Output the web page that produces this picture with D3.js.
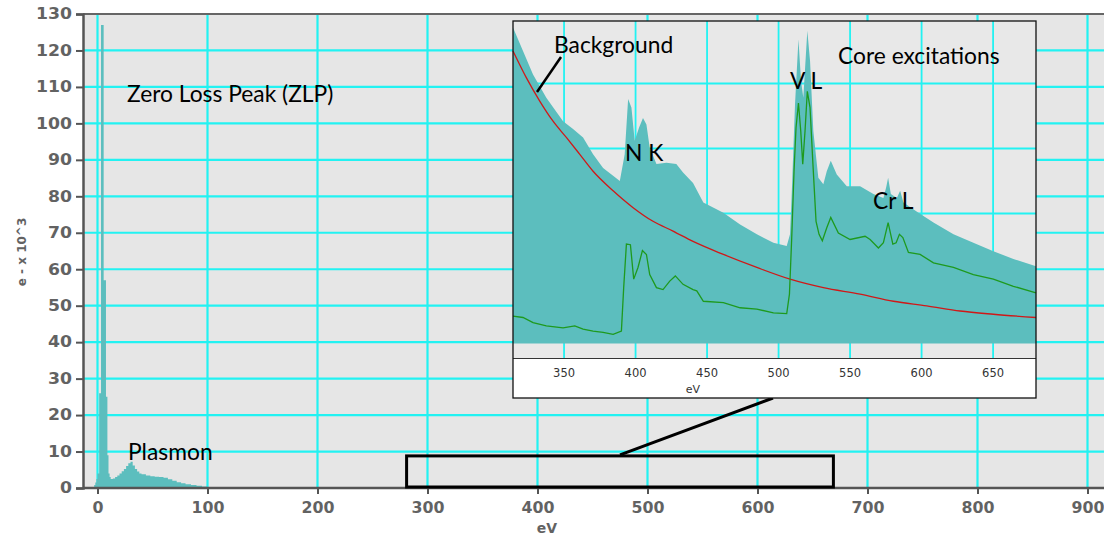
<!DOCTYPE html>
<html>
<head>
<meta charset="utf-8">
<script src="https://cdn.jsdelivr.net/npm/d3@7"></script>
<style>
  html, body { margin: 0; padding: 0; background: #fff; }
  svg { display: block; }
</style>
</head>
<body>
<svg id="chart" width="1104" height="535"></svg>
<script>
// ---- Low-loss spectrum (full range), energy in eV, counts in e- x 10^3 ----
const mainEnergy = [-5, -3, -2, -1, 0, 1.5, 3.2, 5.6, 7.7, 9, 10, 11, 12, 14, 16, 18, 20, 22, 24, 26, 28, 30, 32, 34, 36, 38, 40, 44, 48, 52, 56, 60, 64, 68, 72, 76, 80, 85, 90, 95, 100, 105, 110, 115, 120];
const mainCounts = [0, 0.8, 1.5, 2.5, 4, 26, 127, 57, 25, 9, 4, 3, 2.5, 2.6, 3, 3.4, 4, 4.6, 5.2, 6, 6.8, 7.2, 6.2, 5.2, 4.5, 4, 3.8, 3.4, 3.2, 3.1, 3.0, 2.8, 2.4, 2.0, 1.6, 1.3, 1.0, 0.8, 0.6, 0.4, 0.3, 0.2, 0.1, 0.05, 0];

const mainXTicks = [0, 100, 200, 300, 400, 500, 600, 700, 800, 900];
const mainYTicks = [0, 10, 20, 30, 40, 50, 60, 70, 80, 90, 100, 110, 120, 130];

// zoom window marked on the full spectrum
const zoomRange = { e0: 281, e1: 669, c0: 0, c1: 8.8 };

// ---- Core-loss detail (inset) ----
const insetEnergy = [314.3, 321.3, 328.3, 337.6, 349.3, 356.3, 363.3, 370.3, 377.3, 384.3, 389, 392.4, 394.8, 397.1, 399.4, 402.4, 405.2, 407.6, 409.9, 414.6, 421.6, 428.5, 433.2, 440.2, 447.4, 461.4, 473.1, 484.8, 496.4, 505.7, 508, 509.2, 511.5, 513.9, 515.7, 517.3, 520.1, 522, 524.3, 527.8, 531.3, 533.7, 536.5, 540.7, 547.7, 557, 566.3, 573.3, 575.2, 576.6, 578.5, 582.7, 585, 587.3, 597.8, 608.3, 622.3, 636.2, 650.2, 664.2, 680];
const insetTotal = [4.86, 4.50, 4.14, 3.78, 3.42, 3.30, 3.17, 2.91, 2.70, 2.58, 2.50, 2.91, 3.76, 3.63, 3.12, 3.32, 3.47, 3.37, 3.01, 2.76, 2.78, 2.76, 2.63, 2.47, 2.17, 2.01, 1.83, 1.68, 1.55, 1.50, 1.68, 2.30, 3.68, 4.68, 4.04, 3.78, 4.81, 4.35, 3.27, 2.55, 2.45, 2.65, 2.81, 2.60, 2.42, 2.42, 2.30, 2.24, 2.40, 2.55, 2.30, 2.24, 2.35, 2.17, 2.01, 1.86, 1.68, 1.55, 1.42, 1.30, 1.19];

const bgEnergy = [314.3, 323.6, 333, 342.3, 351.6, 361, 370.3, 384.3, 398.3, 412.2, 426.2, 440.2, 461.4, 484.8, 508, 531.3, 557, 580.3, 603.6, 626.9, 650.2, 680];
const bgCounts = [4.50, 4.09, 3.73, 3.42, 3.17, 2.91, 2.65, 2.35, 2.09, 1.88, 1.73, 1.57, 1.37, 1.17, 0.99, 0.86, 0.76, 0.65, 0.58, 0.50, 0.45, 0.40];

const edgeEnergy = [314.3, 321.3, 328.3, 337.6, 349.3, 357.5, 363.3, 370.3, 377.3, 384.3, 390.1, 391.7, 393.6, 396.4, 398.7, 401.7, 404.8, 407.6, 409.9, 414.6, 419.2, 423.9, 427.8, 433.2, 440.2, 442.8, 447.4, 461.4, 473.1, 484.8, 496.4, 505.7, 507.6, 509.2, 510.8, 512.2, 513.9, 515.5, 516.9, 518.5, 520.1, 522, 523.9, 526.2, 528.3, 530.6, 533.7, 536.5, 541.8, 550, 560.5, 564, 569.8, 573.3, 576.6, 579.9, 582.2, 584.5, 586.9, 590.8, 599, 608.3, 622.3, 636.2, 650.2, 664.2, 680];
const edgeCounts = [0.42, 0.40, 0.32, 0.27, 0.24, 0.27, 0.22, 0.19, 0.17, 0.14, 0.19, 0.86, 1.53, 1.52, 0.99, 1.17, 1.43, 1.37, 1.06, 0.86, 0.83, 0.96, 1.04, 0.91, 0.83, 0.81, 0.65, 0.63, 0.55, 0.53, 0.47, 0.46, 0.76, 1.63, 2.65, 3.32, 3.70, 3.27, 2.76, 3.27, 3.88, 3.63, 2.81, 1.88, 1.68, 1.58, 1.78, 1.94, 1.70, 1.60, 1.65, 1.60, 1.47, 1.55, 1.86, 1.53, 1.55, 1.68, 1.63, 1.40, 1.37, 1.24, 1.17, 1.06, 0.99, 0.88, 0.78];

const insetXTicks = [350, 400, 450, 500, 550, 600, 650];
const insetYGrid = [1, 2, 3, 4];

// ---- styles ----
const GRID = "#22f2f2";
const FILL = "#5cbebe";
const AXIS = "#555";
const TICKTXT = "#3c3c3c";
const NOTE_FONT = "Lato, 'Open Sans', sans-serif";

const svg = d3.select("#chart");

// ================= main panel =================
const M = { left: 83, top: 14, right: 1110, bottom: 488 };
const x = d3.scaleLinear().domain([0, 900]).range([97.5, 1087.5]);
const y = d3.scaleLinear().domain([0, 130]).range([488, 14]);

svg.append("rect")
  .attr("x", M.left).attr("y", M.top)
  .attr("width", M.right - M.left).attr("height", M.bottom - M.top)
  .attr("fill", "#e6e6e6");

const grid = svg.append("g");
grid.selectAll("line.h").data(mainYTicks.filter(d => d > 0)).join("line")
  .attr("x1", M.left).attr("x2", M.right)
  .attr("y1", d => y(d)).attr("y2", d => y(d))
  .attr("stroke", GRID).attr("stroke-width", 2.2);
grid.selectAll("line.v").data(mainXTicks).join("line")
  .attr("y1", M.top).attr("y2", M.bottom)
  .attr("x1", d => x(d)).attr("x2", d => x(d))
  .attr("stroke", GRID).attr("stroke-width", 2.2);

const mainData = mainEnergy.map((e, i) => ({ e, c: mainCounts[i] }));
svg.append("path")
  .datum(mainData)
  .attr("fill", FILL)
  .attr("d", d3.area().curve(d3.curveStepAfter)
    .x(d => x(d.e)).y0(y(0)).y1(d => y(d.c)));

// frame lines
svg.append("line").attr("x1", M.left).attr("x2", M.right).attr("y1", M.top).attr("y2", M.top)
  .attr("stroke", "#666").attr("stroke-width", 2);

// y axis
const yAxis = svg.append("g").attr("transform", `translate(${M.left},0)`)
  .call(d3.axisLeft(y).tickValues(mainYTicks).tickSize(7).tickPadding(4));
yAxis.select(".domain").attr("stroke", AXIS).attr("stroke-width", 2.5);
yAxis.selectAll(".tick line").attr("stroke", AXIS).attr("stroke-width", 2);
yAxis.selectAll(".tick text")
  .attr("fill", TICKTXT).attr("font-family", "'DejaVu Sans', sans-serif")
  .attr("font-size", 15).attr("font-weight", "bold").attr("opacity", 0.8)
  .attr("textLength", d => String(d).length * 12)
  .attr("lengthAdjust", "spacingAndGlyphs");

// x axis
const xAxis = svg.append("g").attr("transform", `translate(0,${M.bottom})`)
  .call(d3.axisBottom(x).tickValues(mainXTicks).tickSize(6).tickPadding(8));
xAxis.select(".domain").remove();
svg.append("line").attr("x1", M.left).attr("x2", M.right).attr("y1", M.bottom).attr("y2", M.bottom)
  .attr("stroke", AXIS).attr("stroke-width", 2.5);
xAxis.selectAll(".tick line").attr("stroke", AXIS).attr("stroke-width", 2);
xAxis.selectAll(".tick text")
  .attr("fill", TICKTXT).attr("font-family", "'DejaVu Sans', sans-serif")
  .attr("font-size", 15).attr("font-weight", "bold").attr("opacity", 0.8)
  .attr("textLength", d => String(d).length * 11)
  .attr("lengthAdjust", "spacingAndGlyphs");

// axis titles
svg.append("text").attr("x", 547).attr("y", 533)
  .attr("text-anchor", "middle").attr("fill", TICKTXT)
  .attr("font-family", "'DejaVu Sans', sans-serif").attr("font-size", 14).attr("font-weight", "bold")
  .attr("opacity", 0.8)
  .text("eV");
svg.append("text")
  .attr("transform", "translate(26,252) rotate(-90)")
  .attr("text-anchor", "middle").attr("fill", TICKTXT)
  .attr("font-family", "'DejaVu Sans', sans-serif").attr("font-size", 12).attr("font-weight", "bold")
  .attr("opacity", 0.8)
  .text("e - x 10^3");

// zoom window and leader
svg.append("rect")
  .attr("x", x(zoomRange.e0)).attr("y", y(zoomRange.c1))
  .attr("width", x(zoomRange.e1) - x(zoomRange.e0))
  .attr("height", y(zoomRange.c0) - y(zoomRange.c1) - 1)
  .attr("fill", "none").attr("stroke", "#000").attr("stroke-width", 3);

// ================= inset =================
const I = { left: 513, top: 21, right: 1036, plotBottom: 358.5, bottom: 398 };
const ix = d3.scaleLinear().domain([314.3, 680]).range([I.left, I.right]);
const iy = d3.scaleLinear().domain([0, 4]).range([343.5, 83.5]);

svg.append("line")
  .attr("x1", 620).attr("y1", y(zoomRange.c1) - 1)
  .attr("x2", 773).attr("y2", I.bottom)
  .attr("stroke", "#000").attr("stroke-width", 3);

svg.append("rect").attr("x", I.left).attr("y", I.top)
  .attr("width", I.right - I.left).attr("height", I.bottom - I.top)
  .attr("fill", "#fff");
svg.append("rect").attr("x", I.left).attr("y", I.top)
  .attr("width", I.right - I.left).attr("height", I.plotBottom - I.top)
  .attr("fill", "#e8e8e8");

const ig = svg.append("g");
ig.selectAll("line.v").data(insetXTicks).join("line")
  .attr("x1", d => ix(d)).attr("x2", d => ix(d))
  .attr("y1", I.top).attr("y2", I.plotBottom)
  .attr("stroke", GRID).attr("stroke-width", 1.8);
ig.selectAll("line.h").data(insetYGrid).join("line")
  .attr("x1", I.left).attr("x2", I.right)
  .attr("y1", d => iy(d)).attr("y2", d => iy(d))
  .attr("stroke", GRID).attr("stroke-width", 1.8);

const totalData = insetEnergy.map((e, i) => ({ e, c: insetTotal[i] }));
svg.append("path").datum(totalData)
  .attr("fill", FILL)
  .attr("d", d3.area().x(d => ix(d.e)).y0(iy(0)).y1(d => iy(d.c)));

const bgData = bgEnergy.map((e, i) => ({ e, c: bgCounts[i] }));
svg.append("path").datum(bgData)
  .attr("fill", "none").attr("stroke", "#d01818").attr("stroke-width", 1.3)
  .attr("d", d3.line().curve(d3.curveMonotoneX).x(d => ix(d.e)).y(d => iy(d.c)));

const edgeData = edgeEnergy.map((e, i) => ({ e, c: edgeCounts[i] }));
svg.append("path").datum(edgeData)
  .attr("fill", "none").attr("stroke", "#1e9a1e").attr("stroke-width", 1.3)
  .attr("d", d3.line().x(d => ix(d.e)).y(d => iy(d.c)));

// inset axis
svg.append("line").attr("x1", I.left).attr("x2", I.right)
  .attr("y1", I.plotBottom).attr("y2", I.plotBottom)
  .attr("stroke", "#333").attr("stroke-width", 1.2);
svg.append("g").selectAll("text").data(insetXTicks).join("text")
  .attr("x", d => ix(d)).attr("y", 377)
  .attr("text-anchor", "middle").attr("fill", "#333")
  .attr("font-family", "'DejaVu Sans', sans-serif").attr("font-size", 11.5)
  .text(d => d);
svg.append("text").attr("x", 693).attr("y", 393)
  .attr("text-anchor", "middle").attr("fill", "#333")
  .attr("font-family", "'DejaVu Sans', sans-serif").attr("font-size", 11)
  .text("eV");

svg.append("rect").attr("x", I.left).attr("y", I.top)
  .attr("width", I.right - I.left).attr("height", I.bottom - I.top)
  .attr("fill", "none").attr("stroke", "#111").attr("stroke-width", 1.3);

// ================= annotations =================
const notes = [
  { t: "Zero Loss Peak (ZLP)", x: 127, y: 102 },
  { t: "Plasmon", x: 128, y: 460 },
  { t: "Background", x: 554, y: 53 },
  { t: "N K", x: 625, y: 161 },
  { t: "V L", x: 790, y: 89 },
  { t: "Core excitations", x: 838, y: 64 },
  { t: "Cr L", x: 873, y: 209 }
];
svg.append("g").selectAll("text").data(notes).join("text")
  .attr("x", d => d.x).attr("y", d => d.y)
  .attr("font-family", NOTE_FONT).attr("font-size", 22.8)
  .attr("fill", "#000")
  .text(d => d.t);

svg.append("line")
  .attr("x1", 561).attr("y1", 57).attr("x2", 537).attr("y2", 92)
  .attr("stroke", "#000").attr("stroke-width", 2.5);
</script>
</body>
</html>
